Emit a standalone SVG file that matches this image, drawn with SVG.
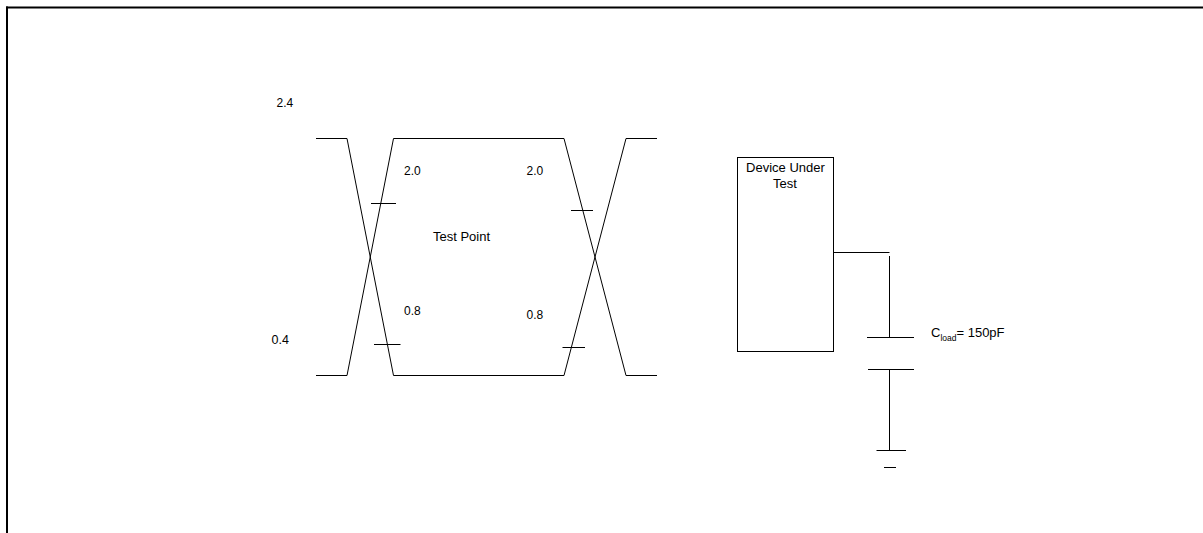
<svg xmlns="http://www.w3.org/2000/svg" width="1203" height="533" viewBox="0 0 1203 533">
<style>
.ln{stroke:#000;stroke-width:1;fill:none}
.fr{stroke:#000;stroke-width:2;fill:none}
.t{font-family:"Liberation Sans",Arial,sans-serif;font-size:13px;fill:#000}
.d{font-family:"Liberation Sans",Arial,sans-serif;font-size:12px;fill:#000}
.s{font-family:"Liberation Sans",Arial,sans-serif;font-size:8.5px;fill:#000}
</style>
<rect width="1203" height="533" fill="#fff"/>
<g id="frame">
<line class="fr" x1="6" y1="7.5" x2="1203" y2="7.5"/>
<line class="fr" x1="7" y1="6.5" x2="7" y2="533"/>
</g>
<g id="levels">
<text class="d" x="276.5" y="107">2.4</text>
<text class="d" x="271.5" y="344" style="font-size:12.5px">0.4</text>
</g>
<g id="waveform">
<polyline class="ln" points="316,138.5 347,138.5 393.5,375.5 564,375.5 626,138.5 657,138.5"/>
<polyline class="ln" points="316,375.5 347,375.5 393.5,138.5 564,138.5 626,375.5 657,375.5"/>
<line class="ln" x1="371" y1="203.5" x2="396" y2="203.5"/>
<line class="ln" x1="374" y1="344.5" x2="400.5" y2="344.5"/>
<line class="ln" x1="571" y1="210.5" x2="593" y2="210.5"/>
<line class="ln" x1="562.5" y1="347.5" x2="585" y2="347.5"/>
<text class="d" x="404" y="175">2.0</text>
<text class="d" x="526.5" y="175">2.0</text>
<text class="d" x="404" y="315">0.8</text>
<text class="d" x="526.5" y="318.5">0.8</text>
<text class="t" x="433" y="240.5">Test Point</text>
</g>
<g id="dut">
<rect class="ln" x="737.5" y="157.5" width="96" height="194"/>
<text class="t" x="785.5" y="172" text-anchor="middle">Device Under</text>
<text class="t" x="785" y="187.5" text-anchor="middle">Test</text>
</g>
<g id="capacitor">
<line class="ln" x1="867" y1="337.5" x2="914" y2="337.5"/>
<line class="ln" x1="868" y1="369.5" x2="914" y2="369.5"/>
<text class="t" x="931" y="337">C<tspan class="s" dy="4">load</tspan><tspan dy="-4">= 150pF</tspan></text>
</g>
<g id="ground">
<line class="ln" x1="876.5" y1="450.5" x2="906" y2="450.5"/>
<line class="ln" x1="884" y1="467.5" x2="896" y2="467.5"/>
</g>
<g id="connectors">
<line class="ln" x1="833.5" y1="252.5" x2="889.5" y2="252.5"/>
<line class="ln" x1="889.5" y1="256" x2="889.5" y2="337.5"/>
<line class="ln" x1="889.5" y1="369.5" x2="889.5" y2="450.5"/>
</g>
</svg>
